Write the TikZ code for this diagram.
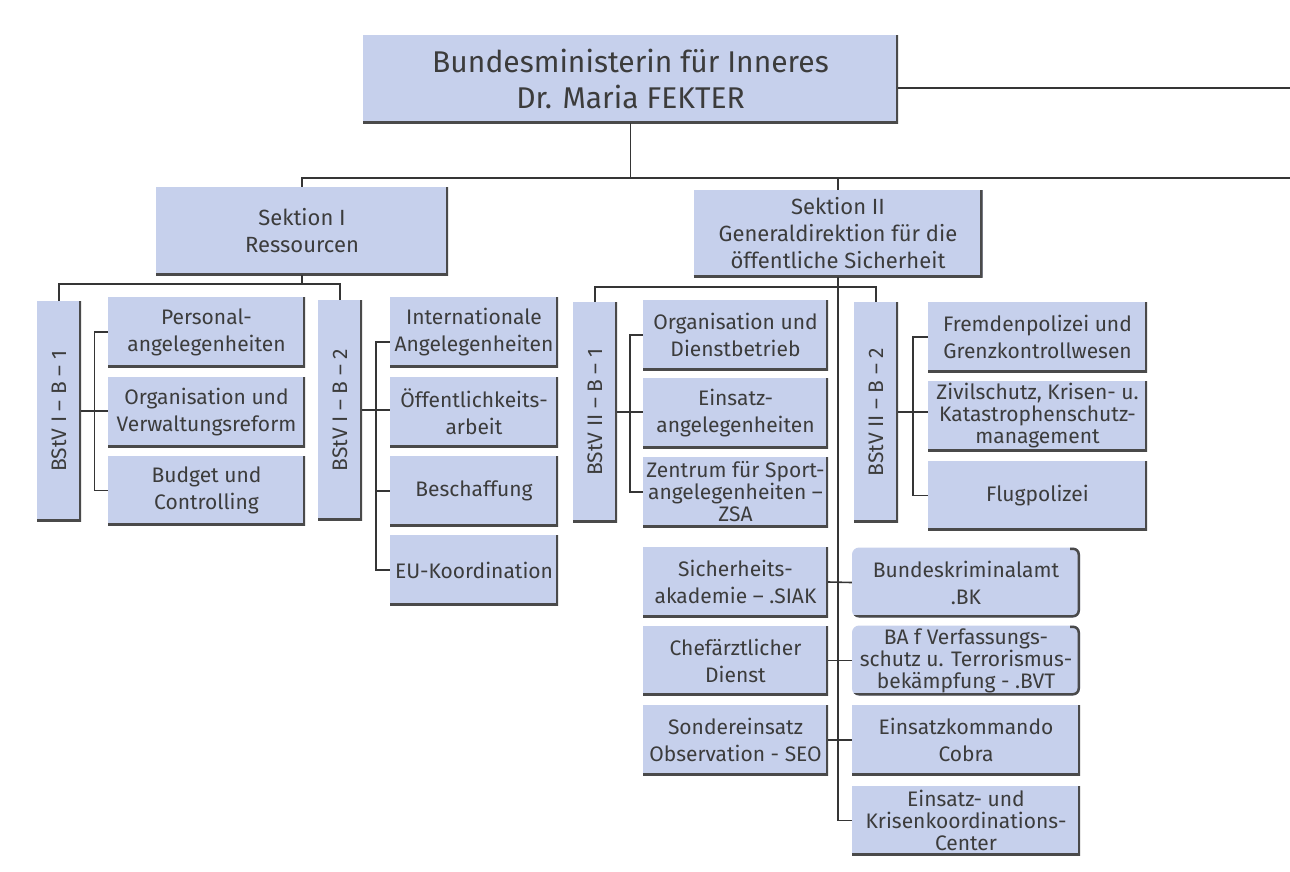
\documentclass[tikz,border=0pt]{standalone}
\usepackage{fontspec}
\setmainfont{Fira Sans}
\usetikzlibrary{calc, positioning}
\definecolor{BMIblue}{HTML}{C6D0EC}
\definecolor{BMIedge}{HTML}{4A4A4A}
\definecolor{BMItext}{HTML}{3C3C3C}
\definecolor{BMIline}{HTML}{353535}

\begin{document}
\begin{tikzpicture}[x=1pt, y=-1pt,
      box/.style={fill=BMIblue, text=BMItext, align=center, inner sep=2pt,
         font=\fontsize{21}{27}\selectfont, minimum height=70pt,
         path picture={\draw[BMIedge, line width=5pt]
            (path picture bounding box.south west) -- (path picture bounding box.south east)
            -- (path picture bounding box.north east);}},
      rbox/.style={box, rounded corners=7pt,
         path picture={\draw[BMIedge, line width=5pt, rounded corners=7pt]
            (path picture bounding box.south west) -- (path picture bounding box.south east)
            -- (path picture bounding box.north east) -- ([xshift=-10pt]path picture bounding box.north east);}},
      vbox/.style={box, minimum width=44pt, minimum height=220pt},
      three/.style={font=\fontsize{21}{22}\selectfont},
      big/.style={font=\fontsize{30}{36}\selectfont},
      sek/.style={font=\fontsize{22}{27}\selectfont},
      wire/.style={BMIline, line width=1.6pt},
   ]
      \useasboundingbox (0,0) rectangle (1290,871);

      % Ministerin
      \node[box, big, minimum width=535pt, minimum height=88pt] (min) at (630.5,79)
         {Bundesministerin für Inneres\\Dr. Maria FEKTER};

      % Sektionen
      \node[box, sek, minimum width=292pt, minimum height=88pt] (sek1) at (302,231)
         {Sektion I\\Ressourcen};
      \node[box, sek, minimum width=289pt, minimum height=87pt] (sek2) at (838,233.5)
         {Sektion II\\Generaldirektion für die\\öffentliche Sicherheit};

      % Bereichsleiter (vertical)
      \node[vbox] (b11) at (59,411) {\rotatebox{90}{BStV I -- B -- 1}};
      \node[vbox] (b12) at (340,410) {\rotatebox{90}{BStV I -- B -- 2}};
      \node[vbox] (b21) at (595,412) {\rotatebox{90}{BStV II -- B -- 1}};
      \node[vbox] (b22) at (876,412) {\rotatebox{90}{BStV II -- B -- 2}};

      % Sektion I, B-1
      \node[box, minimum width=197pt] (c11a) at (206.5,332) {Personal-\\angelegenheiten};
      \node[box, minimum width=197pt] (c11b) at (206.5,412) {Organisation und\\Verwaltungsreform};
      \node[box, minimum width=197pt] (c11c) at (206.5,490.5) {Budget und\\Controlling};

      % Sektion I, B-2
      \node[box, minimum width=168pt] (c12a) at (474,332) {Internationale\\Angelegenheiten};
      \node[box, minimum width=168pt] (c12b) at (474,412) {Öffentlichkeits-\\arbeit};
      \node[box, minimum width=168pt] (c12c) at (474,491) {Beschaffung};
      \node[box, minimum width=168pt] (c12d) at (474,570) {EU-Koordination};

      % Sektion II, B-1
      \node[box, minimum width=185pt] (c21a) at (735.5,335) {Organisation und\\Dienstbetrieb};
      \node[box, minimum width=185pt] (c21b) at (735.5,413) {Einsatz-\\angelegenheiten};
      \node[box, three, minimum width=185pt] (c21c) at (735.5,492)
         {Zentrum für Sport-\\angelegenheiten --\\ZSA};

      % Sektion II, B-2
      \node[box, minimum width=219pt] (c22a) at (1037.5,337) {Fremdenpolizei und\\Grenzkontrollwesen};
      \node[box, three, minimum width=219pt] (c22b) at (1037.5,416)
         {Zivilschutz, Krisen- u.\\Katastrophenschutz-\\management};
      \node[box, minimum width=219pt] (c22c) at (1037.5,495.5) {Flugpolizei};

      % Sektion II, direkt
      \node[box, minimum width=185pt] (s1) at (735.5,582) {Sicherheits-\\akademie -- .SIAK};
      \node[box, minimum width=185pt] (s2) at (735.5,660.5) {Chefärztlicher\\Dienst};
      \node[box, minimum width=185pt] (s3) at (735.5,740) {Sondereinsatz\\Observation - SEO};

      \node[rbox, minimum width=228pt] (r1) at (966,582.5) {Bundeskriminalamt\\.BK};
      \node[rbox, three, minimum width=228pt] (r2) at (966,660.5)
         {BA f Verfassungs-\\schutz u. Terrorismus-\\bekämpfung - .BVT};
      \node[box, minimum width=228pt] (r3) at (966,740) {Einsatzkommando\\Cobra};
      \node[box, three, minimum width=228pt] (r4) at (966,820.5)
         {Einsatz- und\\Krisenkoordinations-\\Center};

      % top lines
      \coordinate (topend) at (1290,88);
      \coordinate (busend) at (1290,178);
      \draw[wire] (min.east |- topend) -- (topend);
      \draw[wire] (sek1.north) |- (busend);
      \draw[wire] (min.south) -- (min.south |- busend);
      \draw[wire] (sek2.north) -- (sek2.north |- busend);

      % Sektion I
      \coordinate (bus1) at ($(sek1.south)+(0,9)$);
      \draw[wire] (sek1.south) -- (bus1);
      \draw[wire] (b11.north) |- (bus1) -| (b12.north);

      \coordinate (k11) at ($(b11.east)!.5!(c11a.west)$);
      \draw[wire] (b11.east) -- (b11.east -| c11b.west);
      \draw[wire] (c11a.west) -| (k11) |- (c11c.west);

      \coordinate (k12) at ($(b12.east)!.5!(c12a.west)$);
      \draw[wire] (b12.east) -- (b12.east -| c12b.west);
      \draw[wire] ($(c12a.west)+(0,10)$) -| (k12) |- (c12d.west);
      \draw[wire] (k12 |- c12c.west) -- (c12c.west);

      % Sektion II
      \coordinate (bus2) at ($(sek2.south)+(0,10)$);
      \draw[wire] (b21.north) |- (bus2) -| (b22.north);
      \draw[wire] (sek2.south) |- (r4.west);

      \coordinate (k21) at ($(b21.east)!.5!(c21a.west)$);
      \draw[wire] (b21.east) -- (b21.east -| c21b.west);
      \draw[wire] (c21a.west) -| (k21) |- (c21c.west);

      \coordinate (k22) at ($(b22.east)!.5!(c22a.west)$);
      \draw[wire] (b22.east) -- (b22.east -| c22b.west);
      \draw[wire] (c22a.west) -| (k22) |- (c22c.west);

      \draw[wire] (s1.east) -- (r1.west);
      \draw[wire] (s2.east) -- (r2.west);
      \draw[wire] (s3.east) -- (r3.west);
   \end{tikzpicture}
\end{document}
